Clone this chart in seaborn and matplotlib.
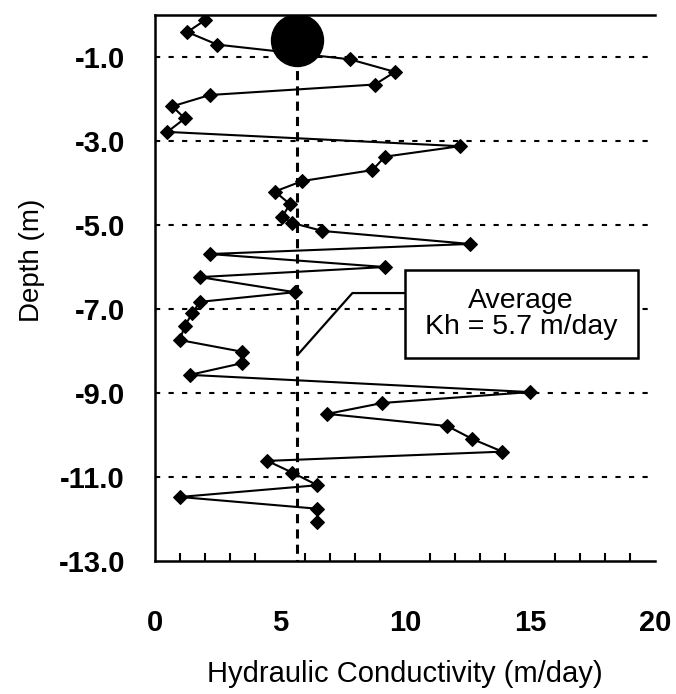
import numpy as np
import matplotlib
matplotlib.use("Agg")
import matplotlib.pyplot as plt
from matplotlib.patches import Rectangle
from matplotlib.ticker import MultipleLocator
import seaborn as sns

# hydraulic conductivity profile
kh = [2.0, 1.3, 2.5, 7.8, 9.6, 8.8, 2.2, 0.7, 1.2, 0.5,
      12.2, 9.2, 8.7, 5.9, 4.8, 5.4, 5.1, 5.5, 6.7, 12.6,
      2.2, 9.2, 1.8, 5.6, 1.8, 1.5, 1.2, 1.0, 3.5, 3.5,
      1.4, 15.0, 9.1, 6.9, 11.7, 12.7, 13.9, 4.5, 5.5, 6.5,
      1.0, 6.5, 6.5]
depth = [-0.12, -0.4, -0.7, -1.05, -1.35, -1.65, -1.9, -2.17, -2.46, -2.78,
         -3.12, -3.37, -3.69, -3.95, -4.2, -4.5, -4.8, -4.95, -5.14, -5.45,
         -5.69, -6.0, -6.24, -6.6, -6.83, -7.1, -7.4, -7.74, -8.02, -8.29,
         -8.57, -8.98, -9.24, -9.5, -9.79, -10.1, -10.4, -10.62, -10.9, -11.2,
         -11.48, -11.76, -12.07]

avg_kh = 5.7
avg_depth = -0.6
y_ticks = [-1, -3, -5, -7, -9, -11, -13]
x_ticks = [0, 5, 10, 15, 20]

sns.set_style("white")
plt.rcParams["font.family"] = ["Liberation Sans", "DejaVu Sans"]
plt.rcParams["text.color"] = "black"
plt.rcParams["axes.labelcolor"] = "black"
plt.rcParams["xtick.color"] = "black"
plt.rcParams["ytick.color"] = "black"

fig = plt.figure(figsize=(6.76, 6.94), dpi=100)
ax = fig.add_axes([0.229, 0.192, 0.740, 0.786])

sns.lineplot(x=kh, y=depth, sort=False, estimator=None, color="black",
             marker="D", markersize=7.5, markeredgecolor="black",
             linewidth=1.5, ax=ax, zorder=3)

# average line and marker
ax.plot([avg_kh, avg_kh], [avg_depth, -13], color="black", lw=2.2,
        linestyle=(0, (3, 2)), zorder=2)
ax.scatter([avg_kh], [avg_depth], s=1400, color="black", zorder=4)

ax.set_xlim(0, 20)
ax.set_ylim(-13, 0)
ax.set_xticks(x_ticks)
ax.set_yticks(y_ticks)
ax.set_yticklabels([f"{v:.1f}" for v in y_ticks])
ax.xaxis.set_minor_locator(MultipleLocator(1))

for v in y_ticks[:-1]:
    ax.axhline(v, color="black", lw=1.5, linestyle=(0, (2.5, 4)), zorder=1)

for side in ["left", "bottom", "top"]:
    ax.spines[side].set_linewidth(1.8)
    ax.spines[side].set_color("black")
ax.spines["right"].set_visible(False)

ax.tick_params(axis="x", which="major", direction="inout", length=15,
               width=1.8, pad=27, labelsize=21)
ax.tick_params(axis="x", which="minor", direction="in", length=6,
               width=1.5, bottom=True)
ax.tick_params(axis="y", which="major", direction="inout", length=15,
               width=1.8, pad=14, labelsize=21)
for lab in ax.get_xticklabels() + ax.get_yticklabels():
    lab.set_fontweight("bold")

ax.set_xlabel("Hydraulic Conductivity (m/day)", fontsize=21, labelpad=17)
ax.set_ylabel("Depth (m)", fontsize=20, labelpad=10)
ax.yaxis.label.set_y(0.55)

# annotation box with leader line
ax.plot([avg_kh, 7.9, 10.0], [-8.1, -6.62, -6.62], color="black", lw=1.6,
        zorder=5)
ax.add_patch(Rectangle((10.0, -8.17), 9.3, 2.1, facecolor="white",
                       edgecolor="black", lw=1.8, zorder=6))
ax.text(14.65, -7.12, "Average\nKh = 5.7 m/day", ha="center", va="center",
        fontsize=20.5, zorder=7, linespacing=1.0)

fig.savefig("out.png", dpi=100)
